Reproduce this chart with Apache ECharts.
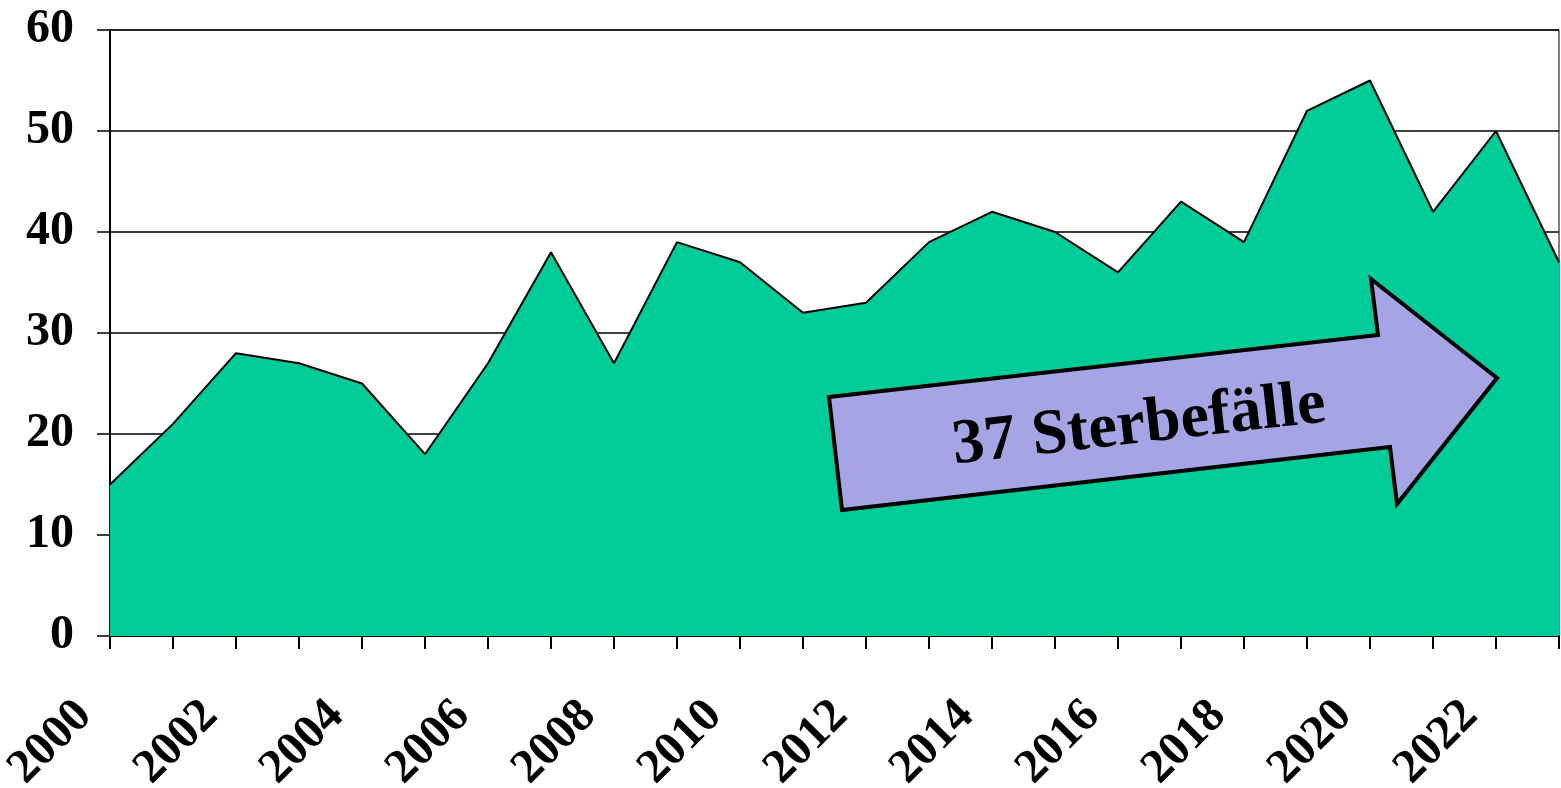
<!DOCTYPE html>
<html>
<head>
<meta charset="utf-8">
<script src="https://cdn.jsdelivr.net/npm/echarts@6/dist/echarts.min.js"></script>
<style>
  html, body { margin: 0; padding: 0; background: #fff; }
  #chart { width: 1561px; height: 788px; }
</style>
</head>
<body>
<div id="chart"></div>
<script>
// Jahre und Sterbefälle
var years = ["2000", "2001", "2002", "2003", "2004", "2005", "2006", "2007", "2008", "2009", "2010", "2011",
  "2012", "2013", "2014", "2015", "2016", "2017", "2018", "2019", "2020", "2021", "2022", "2023"];
var deaths = [15, 21, 28, 27, 25, 18, 27, 38, 27, 39, 37, 32, 33, 39, 42, 40, 36, 43, 39, 52, 55, 42, 50, 37];
var arrowText = "37 Sterbefälle";

var font = "'Liberation Serif', 'Times New Roman', serif";

var myChart = echarts.init(document.getElementById("chart"));
myChart.setOption({
  animation: false,
  grid: {
    left: 110,
    right: 2,
    top: 30,
    bottom: 152,
    outerBoundsMode: "none",
    containLabel: false,
    show: true,
    borderColor: "#000",
    borderWidth: 1
  },
  xAxis: {
    type: "category",
    data: years,
    boundaryGap: false,
    axisLine: { lineStyle: { color: "#000", width: 2 } },
    axisTick: { show: true, interval: 0, length: 13, lineStyle: { color: "#000", width: 2 } },
    axisLabel: {
      interval: 1,
      rotate: 45,
      margin: 47,
      padding: [0, 36, 0, 0],
      color: "#000",
      fontFamily: font,
      fontWeight: "bold",
      fontSize: 48
    },
    splitLine: { show: false }
  },
  yAxis: {
    type: "value",
    min: 0,
    max: 60,
    interval: 10,
    axisLine: { show: true, lineStyle: { color: "#000", width: 2 } },
    axisTick: { show: true, length: 13, lineStyle: { color: "#000", width: 1.5 } },
    axisLabel: {
      margin: 36,
      color: "#000",
      fontFamily: font,
      fontWeight: "bold",
      fontSize: 48
    },
    splitLine: { lineStyle: { color: "#000", width: 1.5 } }
  },
  series: [{
    type: "line",
    data: deaths,
    symbol: "none",
    lineStyle: { color: "#000", width: 2 },
    areaStyle: { color: "#00CC99", opacity: 1 }
  }],
  graphic: [
    {
      type: "polygon",
      z: 100,
      shape: {
        points: [[829, 397], [1378, 335], [1371, 279], [1497, 378], [1397, 504], [1390, 447], [842, 510]]
      },
      style: { fill: "#A5A5E6", stroke: "#000", lineWidth: 4, lineJoin: "miter" }
    },
    {
      type: "text",
      z: 101,
      x: 1139,
      y: 426,
      rotation: 0.113,
      style: {
        text: arrowText,
        fill: "#000",
        font: "bold 64px " + font,
        align: "center",
        verticalAlign: "middle"
      }
    }
  ]
});
</script>
</body>
</html>
